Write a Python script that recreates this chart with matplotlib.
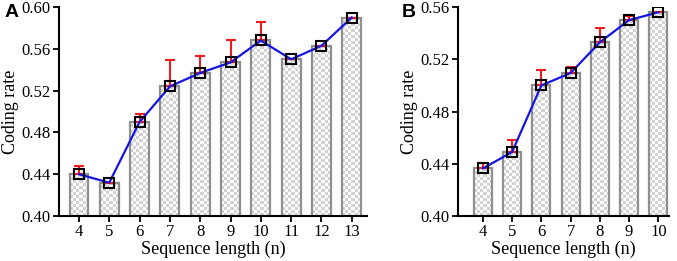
import numpy as np
import matplotlib
matplotlib.use("Agg")
import matplotlib.pyplot as plt

# panel A data
len_a = [4, 5, 6, 7, 8, 9, 10, 11, 12, 13]
rate_a = [0.440, 0.432, 0.490, 0.524, 0.537, 0.547, 0.568, 0.550, 0.563, 0.590]
err_a = [0.008, 0.0, 0.008, 0.025, 0.016, 0.021, 0.018, 0.0, 0.0, 0.0]

# panel B data
len_b = [4, 5, 6, 7, 8, 9, 10]
rate_b = [0.4365, 0.449, 0.500, 0.5095, 0.533, 0.550, 0.556]
err_b = [0.0045, 0.0095, 0.012, 0.0045, 0.011, 0.003, 0.0]

plt.rcParams['font.family'] = ['Liberation Serif', 'DejaVu Serif']

fig = plt.figure(figsize=(6.77, 2.61), dpi=100)
ax_a = fig.add_axes([0.087, 0.172, 0.455, 0.801])
ax_b = fig.add_axes([0.6765, 0.172, 0.311, 0.801])


def checker(ax, bar, ncell_px=3):
    # checkerboard fill clipped to a bar
    x0, y0 = bar.get_x(), bar.get_y()
    w, h = bar.get_width(), bar.get_height()
    p0 = ax.transData.transform((x0, y0))
    p1 = ax.transData.transform((x0 + w, y0 + h))
    nx = max(1, int(round(abs(p1[0] - p0[0]) / ncell_px)))
    ny = max(1, int(round(abs(p1[1] - p0[1]) / ncell_px)))
    board = (np.add.outer(np.arange(ny), np.arange(nx)) % 2).astype(float)
    im = ax.imshow(board, cmap=matplotlib.colors.ListedColormap(['#ffffff', '#d3d3d3']),
                   extent=[x0, x0 + w, y0, y0 + h], aspect='auto',
                   interpolation='nearest', zorder=1)
    im.set_clip_path(bar)


def panel(ax, xs, ys, errs, ylim, yticks, xlim):
    ax.set_xlim(*xlim)
    ax.set_ylim(*ylim)
    bars = ax.bar(xs, np.array(ys) - ylim[0], bottom=ylim[0], width=0.62,
                  facecolor='none', edgecolor='#8f8f8f', linewidth=1.6, zorder=2)
    for b in bars:
        checker(ax, b)
    ax.set_xlim(*xlim)
    ax.set_ylim(*ylim)
    ax.errorbar(xs, ys, yerr=[np.zeros(len(errs)), errs], fmt='none',
                ecolor='#ee1c1c', elinewidth=1.5, capsize=3.5, capthick=1.5, zorder=3)
    ax.plot(xs, ys, color='#1414e6', linewidth=1.6, marker='s', markersize=7,
            markerfacecolor='none', markeredgecolor='black', markeredgewidth=1.5, zorder=4)
    ax.set_xticks(xs)
    ax.set_yticks(yticks)
    ax.set_yticklabels([f"{t:.2f}" for t in yticks])
    ax.spines['top'].set_visible(False)
    ax.spines['right'].set_visible(False)
    for s in ['left', 'bottom']:
        ax.spines[s].set_linewidth(1.5)
    ax.tick_params(direction='out', length=4, width=1.3, labelsize=12, pad=2)
    ax.set_xlabel('Sequence length (n)', fontsize=13, labelpad=0)
    ax.set_ylabel('Coding rate', fontsize=13, labelpad=2)


panel(ax_a, len_a, rate_a, err_a, (0.40, 0.60), [0.40, 0.44, 0.48, 0.52, 0.56, 0.60],
      (3.34, 13.5))
panel(ax_b, len_b, rate_b, err_b, (0.40, 0.56), [0.40, 0.44, 0.48, 0.52, 0.56],
      (3.15, 10.35))

fig.text(0.006, 0.985, 'A', fontsize=14, fontweight='bold', family='Liberation Sans',
         va='top', ha='left')
fig.text(0.594, 0.985, 'B', fontsize=14, fontweight='bold', family='Liberation Sans',
         va='top', ha='left')

fig.savefig('out.png', dpi=100)
